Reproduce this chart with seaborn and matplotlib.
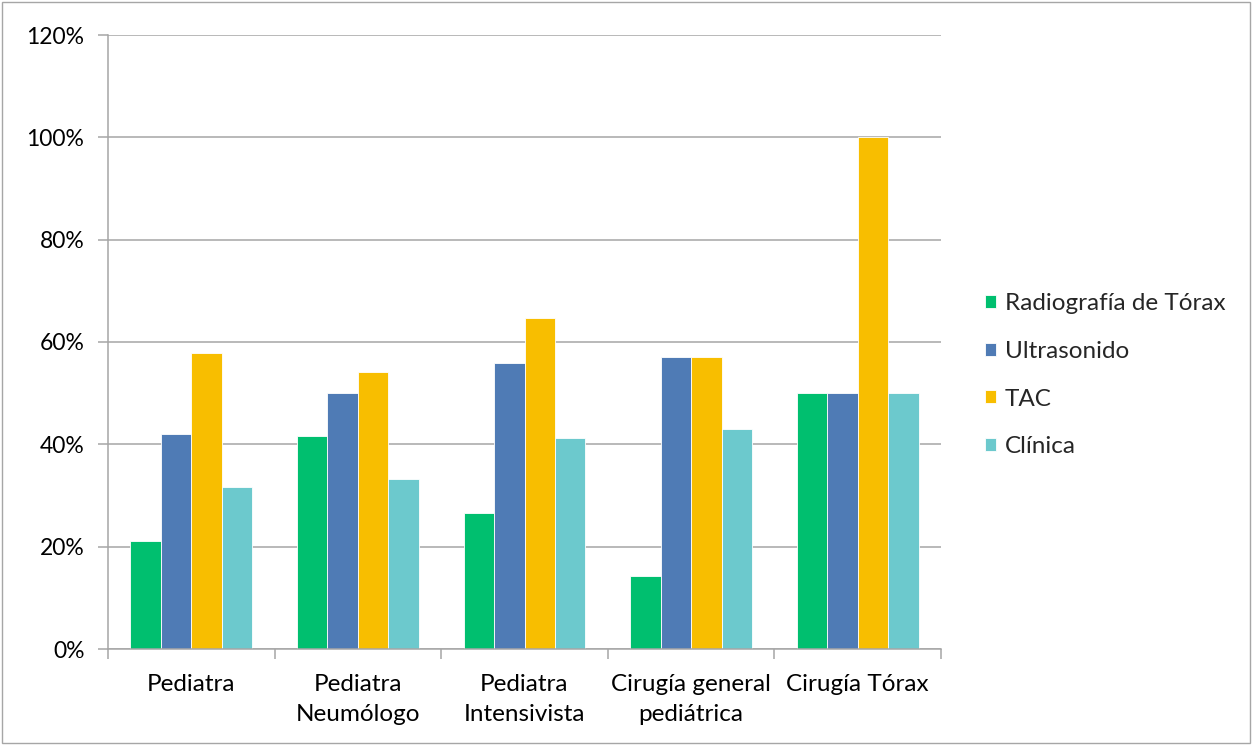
import matplotlib
matplotlib.use("Agg")
import matplotlib.pyplot as plt
from matplotlib.ticker import PercentFormatter, FixedLocator, NullFormatter
from matplotlib.patches import Rectangle
import seaborn as sns
import pandas as pd

especialidades = ["Pediatra", "Pediatra\nNeumólogo", "Pediatra\nIntensivista",
                  "Cirugía general\npediátrica", "Cirugía Tórax"]
metodos = ["Radiografía de Tórax", "Ultrasonido", "TAC", "Clínica"]

radiografia = [21.05, 41.7, 26.5, 14.3, 50.0]
ultrasonido = [42.1, 50.0, 55.9, 57.1, 50.0]
tac = [57.9, 54.2, 64.7, 57.1, 100.0]
clinica = [31.6, 33.3, 41.2, 42.9, 50.0]

colores = ["#00BF6F", "#4F7BB5", "#F8BE00", "#6CC9CD"]

series = {"Radiografía de Tórax": radiografia, "Ultrasonido": ultrasonido,
          "TAC": tac, "Clínica": clinica}
df = pd.DataFrame([
    {"especialidad": esp, "metodo": m, "valor": series[m][i]}
    for m in metodos for i, esp in enumerate(especialidades)
])

sns.set_theme(style="white")
plt.rcParams["font.family"] = ["Lato", "DejaVu Sans"]

fig = plt.figure(figsize=(12.52, 7.45), dpi=100)
ax = fig.add_axes([108 / 1252, 1 - 649 / 745, (941 - 108) / 1252, (649 - 35) / 745])

sns.barplot(data=df, x="especialidad", y="valor", hue="metodo",
            order=especialidades, hue_order=metodos, palette=colores,
            width=0.73, gap=0, ax=ax, edgecolor="white", linewidth=0.6,
            saturation=1, errorbar=None)

grid_color = "#A6A6A6"
ax.set_ylim(0, 120)
ax.set_xlim(-0.5, len(especialidades) - 0.5)
ax.set_yticks(range(0, 121, 20))
ax.yaxis.set_major_formatter(PercentFormatter(decimals=0))
ax.yaxis.grid(True, color=grid_color, linewidth=1.1)
ax.set_axisbelow(True)

# category labels centred, tick marks at group boundaries
ax.tick_params(axis="x", which="major", length=0, pad=18, labelsize=17.5, colors="black")
ax.xaxis.set_minor_locator(FixedLocator([i - 0.5 for i in range(len(especialidades) + 1)]))
ax.xaxis.set_minor_formatter(NullFormatter())
ax.tick_params(axis="x", which="minor", length=7, width=1.1, color=grid_color, bottom=True)
ax.tick_params(axis="y", length=7, width=1.1, color=grid_color, labelsize=16.5,
               pad=10, left=True, colors="black")
for lab in ax.get_xticklabels():
    lab.set_linespacing(1.55)

for s in ["top", "right"]:
    ax.spines[s].set_visible(False)
for s in ["left", "bottom"]:
    ax.spines[s].set_color(grid_color)
    ax.spines[s].set_linewidth(1.1)

ax.set_xlabel("")
ax.set_ylabel("")

handles, labels = ax.get_legend_handles_labels()
ax.legend(handles, labels, loc="center left", bbox_to_anchor=(1.027, 0.446),
          frameon=False, fontsize=17.5, handlelength=0.45, handleheight=0.45,
          handletextpad=0.35, labelspacing=1.1)

fig.patches.append(Rectangle((2 / 1252, 2 / 745), 1 - 4 / 1252, 1 - 4 / 745,
                             transform=fig.transFigure, fill=False,
                             edgecolor="#A6A6A6", linewidth=1.0))

fig.savefig("out.png", dpi=100, facecolor="white")
